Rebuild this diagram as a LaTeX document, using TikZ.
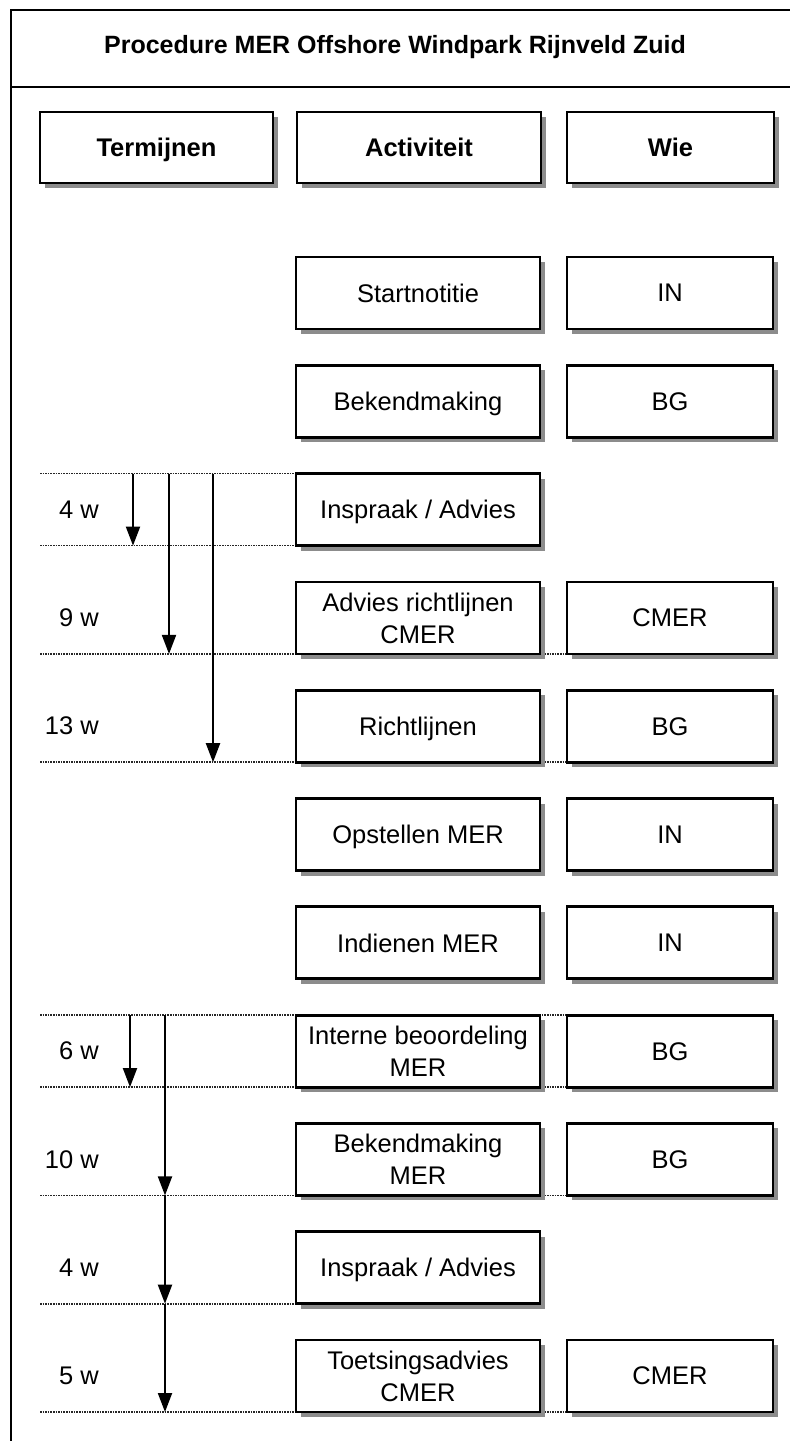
\documentclass[tikz,border=0pt]{standalone}
\usepackage{fontspec}
\setmainfont{Liberation Sans}
\usetikzlibrary{arrows.meta,shadows}
\begin{document}
\begin{tikzpicture}[x=1pt,y=-1pt,
  frameline/.style={line width=2.4pt},
  box/.style={draw, line width=2.8pt, fill=white, inner sep=0pt, align=center,
     font=\fontsize{25.5}{32}\selectfont, minimum height=72pt,
     drop shadow={shadow xshift=5pt, shadow yshift=-5pt, fill=black!45, opacity=1}},
  hbox/.style={box, font=\fontsize{25.5}{32}\selectfont\bfseries, minimum height=71pt},
  actbox/.style={box, minimum width=244pt},
  wiebox/.style={box, minimum width=206pt},
  oneline/.style={text depth=0pt},
  dots/.style={densely dotted, line width=1.6pt, black!85},
  arr/.style={line width=2pt, -{Triangle[length=19pt,width=14pt]}},
  term/.style={anchor=east, font=\fontsize{25.5}{32}\selectfont, inner sep=0pt}
]
\fill[white] (0,0) rectangle (790,1441);
\useasboundingbox (0,0) rectangle (790,1441);

% outer frame
\draw[frameline] (11,1450) -- (11,10) -- (800,10);
\draw[frameline] (11,87) -- (800,87);
\node[font=\fontsize{25}{30}\selectfont\bfseries] (title) at (395,47) {Procedure MER Offshore Windpark Rijnveld Zuid};

% dotted lines
\foreach \y in {473.6,545.6,1303.7} \draw[dots] (40,\y) -- (296,\y);
\foreach \y in {653.9,762.2,1015.1,1087.1,1195.4,1412} \draw[dots] (40,\y) -- (567,\y);

% header
\node[hbox, oneline, minimum width=233pt] (hterm) at (156.5,147.5) {Termijnen};
\node[hbox, oneline, minimum width=244pt] (hact) at (419,147.5) {Activiteit};
\node[hbox, oneline, minimum width=207pt] (hwie) at (670.5,147.5) {Wie};

% activity boxes
\node[actbox, oneline] (a0) at (418,293) {Startnotitie};
\node[actbox, oneline] (a1) at (418,401.3) {Bekendmaking};
\node[actbox, oneline] (a2) at (418,509.6) {Inspraak / Advies};
\node[actbox] (a3) at (418,617.9) {Advies richtlijnen\\CMER};
\node[actbox, oneline] (a4) at (418,726.2) {Richtlijnen};
\node[actbox, oneline] (a5) at (418,834.5) {Opstellen MER};
\node[actbox, oneline] (a6) at (418,942.8) {Indienen MER};
\node[actbox] (a7) at (418,1051.1) {Interne beoordeling\\MER};
\node[actbox] (a8) at (418,1159.4) {Bekendmaking\\MER};
\node[actbox, oneline] (a9) at (418,1267.7) {Inspraak / Advies};
\node[actbox] (a10) at (418,1376) {Toetsingsadvies\\CMER};

% wie boxes
\node[wiebox, oneline] (w0) at (670,293) {IN};
\node[wiebox, oneline] (w1) at (670,401.3) {BG};
\node[wiebox, oneline] (w3) at (670,617.9) {CMER};
\node[wiebox, oneline] (w4) at (670,726.2) {BG};
\node[wiebox, oneline] (w5) at (670,834.5) {IN};
\node[wiebox, oneline] (w6) at (670,942.8) {IN};
\node[wiebox, oneline] (w7) at (670,1051.1) {BG};
\node[wiebox, oneline] (w8) at (670,1159.4) {BG};
\node[wiebox, oneline] (w10) at (670,1376) {CMER};

% term labels
\node[term] (t2) at (99,509.6) {4 w};
\node[term] (t3) at (99,617.9) {9 w};
\node[term] (t4) at (99,726.2) {13 w};
\node[term] (t7) at (99,1051.1) {6 w};
\node[term] (t8) at (99,1159.4) {10 w};
\node[term] (t9) at (99,1267.7) {4 w};
\node[term] (t10) at (99,1376) {5 w};

% arrow coordinates
\coordinate (p1s) at (133,473.6);  \coordinate (p1e) at (133,545.6);
\coordinate (p2s) at (169,473.6);  \coordinate (p2e) at (169,653.9);
\coordinate (p3s) at (213,473.6);  \coordinate (p3e) at (213,762.2);
\coordinate (q1s) at (130,1015.1); \coordinate (q1e) at (130,1087.1);
\coordinate (q2s) at (165,1015.1); \coordinate (q2e) at (165,1195.4);
\coordinate (q3e) at (165,1303.7);
\coordinate (q4e) at (165,1412);

\draw[arr] (p1s) -- (p1e);
\draw[arr] (p2s) -- (p2e);
\draw[arr] (p3s) -- (p3e);
\draw[arr] (q1s) -- (q1e);
\draw[arr] (q2s) -- (q2e);
\draw[arr] (q2e) -- (q3e);
\draw[arr] (q3e) -- (q4e);
\end{tikzpicture}
\end{document}
